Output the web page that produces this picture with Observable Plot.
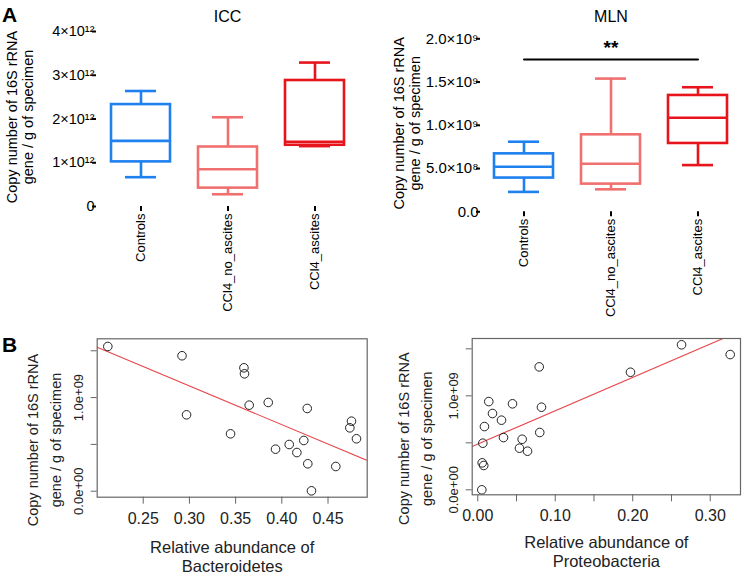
<!DOCTYPE html>
<html><head><meta charset="utf-8">
<script src="https://cdn.jsdelivr.net/npm/d3@7"></script>
<script src="https://cdn.jsdelivr.net/npm/@observablehq/plot@0.6"></script>
<style>
body{margin:0;background:#fff;font-family:"Liberation Sans",Arial,sans-serif;}
#fig{position:relative;width:743px;height:575px;overflow:hidden;}
.panel{position:absolute;}
.panel svg{overflow:visible;}
.lab{position:absolute;font-weight:bold;font-size:21px;color:#000;line-height:1;}
</style>
</head><body>
<div id="fig"></div>
<script>
// ---- Panel A data ----
const groups = ["Controls", "CCl4_no_ascites", "CCl4_ascites"];
const groupColors = ["#1f80f0", "#f07070", "#e8141c"];

const iccMin    = [0.67e12, 0.28e12, 1.38e12];
const iccQ1     = [1.02e12, 0.42e12, 1.40e12];
const iccMedian = [1.50e12, 0.85e12, 1.48e12];
const iccQ3     = [2.33e12, 1.36e12, 2.88e12];
const iccMax    = [2.64e12, 2.04e12, 3.29e12];
const iccTicks  = [0, 1e12, 2e12, 3e12, 4e12];
const iccTickLabels = ["0", "1×10¹²", "2×10¹²", "3×10¹²", "4×10¹²"];

const mlnMin    = [0.23e9, 0.26e9, 0.54e9];
const mlnQ1     = [0.39e9, 0.32e9, 0.79e9];
const mlnMedian = [0.52e9, 0.555e9, 1.087e9];
const mlnQ3     = [0.67e9, 0.89e9, 1.345e9];
const mlnMax    = [0.81e9, 1.54e9, 1.44e9];
const mlnTicks  = [0, 0.5e9, 1e9, 1.5e9, 2e9];
const mlnTickLabels = ["0.0", "5.0×10⁸", "1.0×10⁹", "1.5×10⁹", "2.0×10⁹"];
const mlnSigGroups = ["Controls", "CCl4_ascites"];
const mlnSigY = 1.76e9;
const mlnSigLabel = "**";

// ---- Panel B data ----
const bactX = [0.2117, 0.292, 0.359, 0.3596, 0.2969, 0.3647, 0.3853, 0.4275, 0.3445, 0.3932, 0.408, 0.4163, 0.4238, 0.4281, 0.4321, 0.4584, 0.4754, 0.4736, 0.4808];
const bactY = [1.546e9, 1.447e9, 1.318e9, 1.254e9, 0.816e9, 0.919e9, 0.948e9, 0.884e9, 0.613e9, 0.449e9, 0.499e9, 0.413e9, 0.542e9, 0.293e9, 0.004e9, 0.264e9, 0.748e9, 0.677e9, 0.560e9];
const bactFit = {intercept: 2.367e9, slope: -4.141e9};
const bactXTicks = [0.25, 0.30, 0.35, 0.40, 0.45];
const bactXTickLabels = ["0.25", "0.30", "0.35", "0.40", "0.45"];

const protX = [0.263, 0.3258, 0.1971, 0.0793, 0.0142, 0.0448, 0.0822, 0.019, 0.0306, 0.0086, 0.0332, 0.0573, 0.080, 0.0065, 0.0538, 0.0642, 0.0057, 0.0077, 0.0052];
const protY = [1.543e9, 1.439e9, 1.251e9, 1.308e9, 0.939e9, 0.915e9, 0.879e9, 0.812e9, 0.741e9, 0.673e9, 0.556e9, 0.538e9, 0.61e9, 0.496e9, 0.443e9, 0.411e9, 0.287e9, 0.259e9, 0.0];
const protFit = {intercept: 0.487e9, slope: 3.548e9};
const protXTicks = [0, 0.05, 0.10, 0.15, 0.20, 0.25, 0.30];
const protXTickLabels = ["0.00", "", "0.10", "", "0.20", "", "0.30"];

const scatterYTicks = [0, 0.5e9, 1e9, 1.5e9];
const scatterYTickLabels = ["0.0e+00", "", "1.0e+09", ""];

const yTitle = "Copy number of 16S rRNA\ngene / g of specimen";
const FONT = '"Liberation Sans", Arial, sans-serif';

const fig = document.getElementById("fig");
function place(node, left, top) {
  const d = document.createElement("div");
  d.className = "panel";
  d.style.left = left + "px"; d.style.top = top + "px";
  d.appendChild(node);
  fig.appendChild(d);
}
function label(txt, left, top) {
  const d = document.createElement("div");
  d.className = "lab"; d.textContent = txt;
  d.style.left = left + "px"; d.style.top = top + "px";
  fig.appendChild(d);
}

function boxPanel(o) {
  const rows = groups.map((g, i) => ({g, min: o.mins[i], q1: o.q1s[i], med: o.meds[i], q3: o.q3s[i], max: o.maxs[i]}));
  const sw = 2.6;
  const marks = [
    Plot.ruleX(rows, {x: "g", y1: "q3", y2: "max", stroke: "g", strokeWidth: sw}),
    Plot.ruleX(rows, {x: "g", y1: "min", y2: "q1", stroke: "g", strokeWidth: sw}),
    Plot.tickY(rows, {x: "g", y: "max", stroke: "g", strokeWidth: sw, insetLeft: 28, insetRight: 28}),
    Plot.tickY(rows, {x: "g", y: "min", stroke: "g", strokeWidth: sw, insetLeft: 28, insetRight: 28}),
    Plot.barY(rows, {x: "g", y1: "q1", y2: "q3", fill: "white", stroke: "g", strokeWidth: sw, insetLeft: 14, insetRight: 14}),
    Plot.tickY(rows, {x: "g", y: "med", stroke: "g", strokeWidth: sw, insetLeft: 14, insetRight: 14}),
    Plot.axisY({ticks: o.ticks, tickFormat: () => "", tickSize: 4, strokeWidth: 2, line: true, label: null}),
    Plot.text(o.ticks, {frameAnchor: "left", y: d => d, text: (d, i) => o.tickLabels[i], textAnchor: "end", dx: -2, fontSize: o.yTickFont, lineAnchor: "middle"}),
    Plot.axisX({tickRotate: -90, tickSize: 5, tickPadding: 2, strokeWidth: 2, line: true, fontSize: 13, label: null}),
    Plot.text([o.title], {frameAnchor: "top", dy: o.titleDy, fontSize: 16, lineAnchor: "middle"}),
    Plot.text([yTitle], {frameAnchor: "left", rotate: -90, dx: o.yTitleDx, dy: o.yTitleDy, fontSize: 14.5, lineHeight: 1.12, lineAnchor: "middle", textAnchor: "middle"})
  ];
  if (o.extra) marks.push(...o.extra);
  return Plot.plot({
    width: o.width, height: o.height,
    marginLeft: o.ml, marginRight: o.mr, marginTop: o.mt, marginBottom: o.mb,
    style: {fontFamily: FONT, fontSize: "13px", color: "#000", overflow: "visible"},
    x: {type: "band", domain: groups, padding: 0, axis: null},
    y: {domain: o.yDomain, axis: null},
    color: {domain: groups, range: groupColors},
    marks
  });
}

place(boxPanel({
  title: "ICC", titleDy: -15,
  mins: iccMin, q1s: iccQ1, meds: iccMedian, q3s: iccQ3, maxs: iccMax,
  ticks: iccTicks, tickLabels: iccTickLabels, yDomain: [0, 4e12], yTickFont: 14.5,
  width: 370, height: 320, ml: 96, mr: 12, mt: 31, mb: 114,
  yTitleDx: -77, yTitleDy: -2
}), 0, 0);

place(boxPanel({
  title: "MLN", titleDy: -22,
  mins: mlnMin, q1s: mlnQ1, meds: mlnMedian, q3s: mlnQ3, maxs: mlnMax,
  ticks: mlnTicks, tickLabels: mlnTickLabels, yDomain: [0, 2e9], yTickFont: 15,
  width: 373, height: 320, ml: 110, mr: 2, mt: 38.3, mb: 108.7,
  yTitleDx: -74, yTitleDy: -2,
  extra: [
    Plot.line(mlnSigGroups.map(g => ({g, y: mlnSigY})), {x: "g", y: "y", stroke: "#000", strokeWidth: 2}),
    Plot.text([mlnSigLabel], {x: () => groups[1], y: () => mlnSigY, dy: -12, fontSize: 19, fontWeight: "bold", lineAnchor: "middle"})
  ]
}), 370, 0);

function scatterPanel(o) {
  const pts = o.xs.map((x, i) => ({x, y: o.ys[i]}));
  const fitLine = o.xDomain.map(x => ({x, y: o.fit.intercept + o.fit.slope * x}));
  return Plot.plot({
    width: o.width, height: o.height,
    marginLeft: o.ml, marginRight: o.mr, marginTop: o.mt, marginBottom: o.mb,
    style: {fontFamily: FONT, fontSize: "14px", color: "#222", overflow: "visible"},
    x: {domain: o.xDomain, axis: null},
    y: {domain: o.yDomain, axis: null},
    marks: [
      Plot.line(fitLine, {x: "x", y: "y", stroke: "#e8464a", strokeWidth: 1.1, clip: true}),
      Plot.dot(pts, {x: "x", y: "y", r: 4.3, stroke: "#222", strokeWidth: 1, fill: "none"}),
      Plot.frame({stroke: "#666", strokeWidth: 1.2}),
      Plot.axisY({ticks: scatterYTicks, tickFormat: () => "", tickSize: 6, stroke: "#666", label: null}),
      Plot.text(scatterYTicks, {frameAnchor: "left", y: d => d, text: (d, i) => scatterYTickLabels[i], rotate: -90, dx: -18, textAnchor: "middle", lineAnchor: "middle", fontSize: 13, fill: "#222"}),
      Plot.axisX({ticks: o.xTicks, tickFormat: (d, i) => o.xTickLabels[i], tickSize: 7, tickPadding: 8, fontSize: 16, stroke: "#666", label: null}),
      Plot.text([o.xTitle], {frameAnchor: "bottom", dy: o.xTitleDy, fontSize: 16.5, lineHeight: 1.15, lineAnchor: "top", fill: "#222"}),
      Plot.text([yTitle], {frameAnchor: "left", rotate: -90, dx: o.yTitleDx, dy: 22, fontSize: 14.5, lineHeight: 1.6, lineAnchor: "middle", textAnchor: "middle", fill: "#222"})
    ]
  });
}

place(scatterPanel({
  xs: bactX, ys: bactY, fit: bactFit,
  xDomain: [0.2002, 0.4924], yDomain: [-0.064e9, 1.628e9],
  xTicks: bactXTicks, xTickLabels: bactXTickLabels,
  xTitle: "Relative abundance of\nBacteroidetes", xTitleDy: 42,
  width: 370, height: 255, ml: 96.7, mr: 3.3, mt: 18.3, mb: 78.3,
  yTitleDx: -55
}), 0, 320);

place(scatterPanel({
  xs: protX, ys: protY, fit: protFit,
  xDomain: [-0.0072, 0.3391], yDomain: [-0.053e9, 1.61e9],
  xTicks: protXTicks, xTickLabels: protXTickLabels,
  xTitle: "Relative abundance of\nProteobacteria", xTitleDy: 40,
  width: 373, height: 255, ml: 101.7, mr: 3, mt: 18, mb: 80.7,
  yTitleDx: -59
}), 370, 320);

label("A", 2, 4);
label("B", 2, 334);
</script>
</body></html>
